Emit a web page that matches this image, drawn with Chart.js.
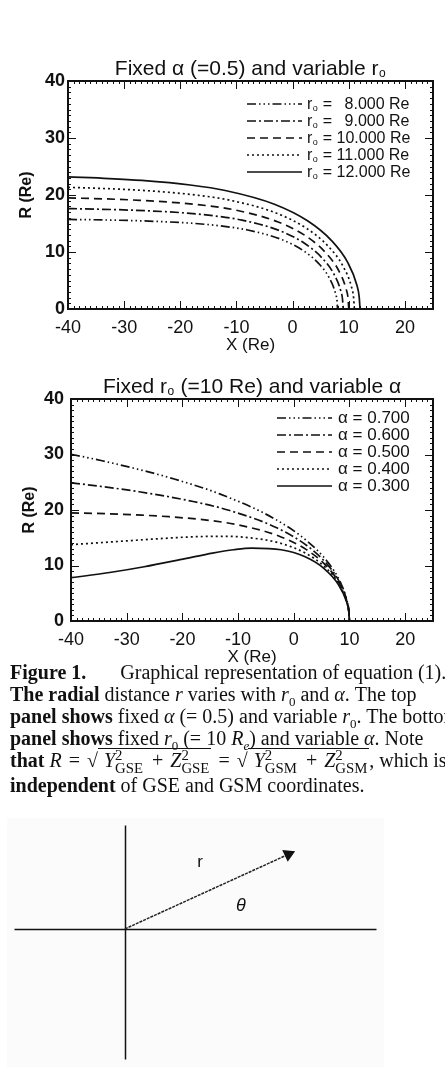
<!DOCTYPE html>
<html lang="en">
<head>
    <meta charset="UTF-8">
    <title>Figure 1</title>
    <script src="https://cdn.jsdelivr.net/npm/chart.js"></script>
    <style>
        html, body {
            margin: 0;
            padding: 0;
            background: #fff;
        }

        #page {
            position: relative;
            width: 445px;
            height: 1067px;
            overflow: hidden;
            background: #fff;
        }

        canvas {
            position: absolute;
        }

        #caption {
            position: absolute;
            left: 10px;
            top: 661px;
            width: 480px;
            font-family: "Liberation Serif", "DejaVu Serif", serif;
            font-size: 20px;
            line-height: 22px;
            color: #111;
            white-space: nowrap;
        }

        #caption sub {
            font-size: 65%;
            line-height: 0;
        }

        .gap {
            display: inline-block;
            width: 34px;
        }

        .ov {
            border-top: 1px solid #111;
            padding-left: 6px;
        }

        .op {
            margin: 0 2px;
        }

        .ss {
            display: inline-block;
            font-size: 74%;
            line-height: 0.85;
            vertical-align: -0.4em;
            margin-right: 2px;
        }

        .ss > span {
            display: block;
        }
    </style>
</head>
<body>
<div id="page">
    <canvas id="topChart" width="445" height="300" style="left:0;top:56px"></canvas>
    <canvas id="bottomChart" width="445" height="294" style="left:0;top:374px"></canvas>

    <div id="caption">
        <div><b>Figure 1.</b><span class="gap"></span>Graphical representation of equation (1).</div>
        <div><b>The radial</b> distance <i>r</i> varies with <i>r</i><sub>0</sub> and <i>α</i>. The top</div>
        <div><b>panel shows</b> fixed <i>α</i> (= 0.5) and variable <i>r</i><sub>0</sub>. The bottom</div>
        <div><b>panel shows</b> fixed <i>r</i><sub>0</sub> (= 10 <i>R<sub>e</sub></i>) and variable <i>α</i>. Note</div>
        <div><b>that</b> <i>R</i> <span class="op">=</span> √<span class="ov"><i>Y</i><span class="ss"><span>2</span><span>GSE</span></span> <span class="op">+</span> <i>Z</i><span class="ss"><span>2</span><span>GSE</span></span></span> <span class="op">=</span> √<span class="ov"><i>Y</i><span class="ss"><span>2</span><span>GSM</span></span> <span class="op">+</span> <i>Z</i><span class="ss"><span>2</span><span>GSM</span></span></span>, which is</div>
        <div><b>independent</b> of GSE and GSM coordinates.</div>
    </div>

    <canvas id="sketch" width="377" height="249" style="left:7px;top:818px;background:#fbfbfb"></canvas>
</div>
<script>
    // top panel: fixed alpha = 0.5, r0 = 8..12 Re  (X in Re, R in Re)
    const r0Labels = ['r₀ = \u20028.000 Re', 'r₀ = \u20029.000 Re', 'r₀ = 10.000 Re', 'r₀ = 11.000 Re', 'r₀ = 12.000 Re'];
    const r0_8_X = [-40, -33.50, -26.77, -17.92, -12.17, -8.00, -2.16, 1.81, 4.62, 6.52, 7.63, 7.91, 8.00];
    const r0_8_R = [15.72, 15.62, 15.46, 15.04, 14.50, 13.86, 12.26, 10.29, 8.00, 5.47, 2.78, 1.39, 0];
    const r0_9_X = [-40, -37.69, -30.11, -20.16, -13.69, -9.00, -2.43, 2.04, 5.20, 7.34, 8.59, 8.90, 9.00];
    const r0_9_R = [17.62, 17.57, 17.39, 16.92, 16.31, 15.59, 13.79, 11.57, 9.00, 6.16, 3.13, 1.57, 0];
    const r0_10_X = [-40, -33.46, -27.24, -22.40, -15.21, -10.00, -2.70, 2.27, 5.77, 8.15, 9.54, 9.89, 10.00];
    const r0_10_R = [19.49, 19.32, 19.07, 18.79, 18.13, 17.32, 15.32, 12.86, 10.00, 6.84, 3.47, 1.74, 0];
    const r0_11_X = [-40, -36.81, -29.96, -24.64, -16.73, -11.00, -2.97, 2.49, 6.35, 8.97, 10.50, 10.87, 11.00];
    const r0_11_R = [21.34, 21.25, 20.98, 20.67, 19.94, 19.05, 16.85, 14.14, 11.00, 7.52, 3.82, 1.92, 0];
    const r0_12_X = [-40, -32.69, -26.88, -18.25, -12.00, -3.24, 2.72, 6.93, 9.78, 11.45, 11.86, 12.00];
    const r0_12_R = [23.18, 22.89, 22.55, 21.75, 20.79, 18.38, 15.43, 12.00, 8.21, 4.17, 2.09, 0];

    // bottom panel: fixed r0 = 10 Re, alpha = 0.7..0.3
    const alphaLabels = ['α = 0.700', 'α = 0.600', 'α = 0.500', 'α = 0.400', 'α = 0.300'];
    const a07_X = [-40, -34.40, -27.13, -21.46, -13.20, -3.22, 2.52, 6.12, 8.36, 9.60, 9.90, 10.00];
    const a07_R = [30.05, 28.87, 27.13, 25.58, 22.86, 18.28, 14.30, 10.59, 7.01, 3.49, 1.75, 0];
    const a06_X = [-40, -34.64, -27.76, -18.07, -11.49, -2.95, 2.39, 5.94, 8.25, 9.57, 9.89, 10.00];
    const a06_R = [24.90, 24.25, 23.29, 21.53, 19.90, 16.74, 13.56, 10.29, 6.93, 3.48, 1.74, 0];
    const a05_X = [-40, -33.46, -27.24, -22.40, -15.21, -10.00, -2.70, 2.27, 5.77, 8.15, 9.54, 9.89, 10.00];
    const a05_R = [19.49, 19.32, 19.07, 18.79, 18.13, 17.32, 15.32, 12.86, 10.00, 6.84, 3.47, 1.74, 0];
    const a04_X = [-40, -38.13, -30.83, -25.54, -18.07, -12.80, -8.71, -2.47, 2.15, 5.61, 8.05, 9.51, 9.88, 10.00];
    const a04_R = [13.75, 13.88, 14.38, 14.74, 15.17, 15.26, 15.08, 14.03, 12.19, 9.72, 6.76, 3.46, 1.74, 0];
    const a03_X = [-40, -37.92, -32.77, -26.87, -19.49, -14.58, -10.78, -7.58, -2.26, 2.04, 5.45, 7.95, 9.48, 9.87, 10.00];
    const a03_R = [7.80, 8.06, 8.78, 9.78, 11.25, 12.24, 12.84, 13.13, 12.84, 11.56, 9.44, 6.67, 3.45, 1.74, 0];

    // axis ticks
    const xTicks = [-40, -30, -20, -10, 0, 10, 20];
    const yTicks = [0, 10, 20, 30, 40];

    // sketch: radius vector r at angle theta
    const vecX = [0, 1.48];
    const vecY = [0, 0.69];

    // line styles, same order in both panels
    const dashes = [[9, 3, 1.5, 3, 1.5, 3, 1.5, 3], [9, 3, 2, 3], [8, 5], [2, 3], []];

    const sansFont = '"Liberation Sans", Arial, Helvetica, sans-serif';

    function pts(xs, ys) {
        return xs.map((x, i) => ({x: x, y: ys[i]}));
    }

    function richWidth(ctx, text, size) {
        const parts = text.split('₀');
        let w = 0;
        parts.forEach((p, i) => {
            ctx.font = size + 'px ' + sansFont;
            w += ctx.measureText(p).width;
            if (i < parts.length - 1) {
                ctx.font = Math.round(size * 0.55) + 'px ' + sansFont;
                w += ctx.measureText('o').width + 1;
            }
        });
        return w;
    }

    // text with the ₀ glyph drawn as a small lowered o, as in the print
    function drawRich(ctx, text, x, y, size) {
        const parts = text.split('₀');
        ctx.textBaseline = 'middle';
        ctx.textAlign = 'left';
        parts.forEach((p, i) => {
            ctx.font = size + 'px ' + sansFont;
            ctx.fillText(p, x, y);
            x += ctx.measureText(p).width;
            if (i < parts.length - 1) {
                ctx.font = Math.round(size * 0.55) + 'px ' + sansFont;
                ctx.fillText('o', x + 0.5, y + size * 0.22);
                x += ctx.measureText('o').width + 1;
            }
        });
    }

    // box around the plot with inward major/minor ticks on all four sides, plus the title
    const frameTicks = {
        id: 'frameTicks',
        afterDatasetsDraw(chart, args, opts) {
            const {ctx, chartArea: a, scales: {x, y}} = chart;
            ctx.save();
            ctx.strokeStyle = '#111';
            ctx.fillStyle = '#111';
            ctx.lineWidth = 2;
            ctx.strokeRect(a.left, a.top, a.right - a.left, a.bottom - a.top);
            ctx.lineWidth = 1;
            ctx.beginPath();
            for (let v = Math.ceil(x.min); v <= x.max; v++) {
                const px = Math.round(x.getPixelForValue(v)) + 0.5;
                const len = v % 10 === 0 ? 8 : 3;
                ctx.moveTo(px, a.bottom);
                ctx.lineTo(px, a.bottom - len);
                ctx.moveTo(px, a.top);
                ctx.lineTo(px, a.top + len);
            }
            for (let v = Math.ceil(y.min); v <= y.max; v++) {
                const py = Math.round(y.getPixelForValue(v)) + 0.5;
                const len = v % 10 === 0 ? 8 : 3;
                ctx.moveTo(a.left, py);
                ctx.lineTo(a.left + len, py);
                ctx.moveTo(a.right, py);
                ctx.lineTo(a.right - len, py);
            }
            ctx.stroke();
            if (opts && opts.title) {
                const w = richWidth(ctx, opts.title, opts.size);
                drawRich(ctx, opts.title, (a.left + a.right) / 2 - w / 2, a.top - opts.offset, opts.size);
            }
            ctx.restore();
        }
    };

    // legend drawn inside the plot, top right
    const innerLegend = {
        id: 'innerLegend',
        afterDatasetsDraw(chart, args, opts) {
            if (!opts || opts.left === undefined) return;
            const {ctx, chartArea: a} = chart;
            ctx.save();
            ctx.fillStyle = '#111';
            ctx.strokeStyle = '#111';
            chart.data.datasets.forEach((ds, i) => {
                const yy = a.top + opts.top + i * opts.step;
                const x0 = a.left + opts.left;
                ctx.lineWidth = ds.borderWidth;
                ctx.setLineDash(ds.borderDash);
                ctx.beginPath();
                ctx.moveTo(x0, yy);
                ctx.lineTo(x0 + opts.len, yy);
                ctx.stroke();
                ctx.setLineDash([]);
                drawRich(ctx, ds.label, x0 + opts.len + opts.gap, yy + 0.5, opts.size);
            });
            ctx.restore();
        }
    };

    function makeDatasets(labels, series) {
        return series.map((s, i) => ({
            label: labels[i],
            data: pts(s[0], s[1]),
            showLine: true,
            borderColor: '#111',
            borderWidth: 1.7,
            borderDash: dashes[i],
            pointRadius: 0,
            cubicInterpolationMode: 'monotone',
            fill: false
        }));
    }

    function panelOptions(title, yWidth, yTitlePad, yTickPad, legend) {
        return {
            responsive: false,
            animation: false,
            devicePixelRatio: 1,
            layout: {padding: {left: 0, right: 12, top: 25, bottom: 0}},
            plugins: {
                legend: {display: false},
                tooltip: {enabled: false},
                title: {display: false},
                frameTicks: {title: title, size: 21, offset: 11.5},
                innerLegend: legend
            },
            scales: {
                x: {
                    type: 'linear',
                    min: -40,
                    max: 25,
                    afterFit: s => { s.height = 47; },
                    afterBuildTicks: s => { s.ticks = xTicks.map(v => ({value: v})); },
                    grid: {display: false, drawTicks: false},
                    border: {display: false},
                    ticks: {
                        color: '#111',
                        padding: 8,
                        maxRotation: 0,
                        font: {family: sansFont, size: 18}
                    },
                    title: {
                        display: true,
                        text: 'X (Re)',
                        color: '#111',
                        font: {family: sansFont, size: 17},
                        padding: {top: 0, bottom: 0}
                    }
                },
                y: {
                    type: 'linear',
                    min: 0,
                    max: 40,
                    afterFit: s => { s.width = yWidth; },
                    afterBuildTicks: s => { s.ticks = yTicks.map(v => ({value: v})); },
                    grid: {display: false, drawTicks: false},
                    border: {display: false},
                    ticks: {
                        color: '#111',
                        padding: yTickPad,
                        font: {family: sansFont, size: 18, weight: 'bold'}
                    },
                    title: {
                        display: true,
                        text: 'R (Re)',
                        color: '#111',
                        font: {family: sansFont, size: 16, weight: 'bold'},
                        padding: {top: yTitlePad, bottom: 0}
                    }
                }
            }
        };
    }

    new Chart(document.getElementById('topChart').getContext('2d'), {
        type: 'scatter',
        data: {
            datasets: makeDatasets(r0Labels, [
                [r0_8_X, r0_8_R], [r0_9_X, r0_9_R], [r0_10_X, r0_10_R], [r0_11_X, r0_11_R], [r0_12_X, r0_12_R]
            ])
        },
        options: panelOptions('Fixed α (=0.5) and variable r₀', 68, 17, 3,
            {left: 179, top: 23, step: 17, len: 55, gap: 5, size: 16}),
        plugins: [frameTicks, innerLegend]
    });

    new Chart(document.getElementById('bottomChart').getContext('2d'), {
        type: 'scatter',
        data: {
            datasets: makeDatasets(alphaLabels, [
                [a07_X, a07_R], [a06_X, a06_R], [a05_X, a05_R], [a04_X, a04_R], [a03_X, a03_R]
            ])
        },
        options: panelOptions('Fixed r₀ (=10 Re) and variable α', 71, 20, 7,
            {left: 206, top: 19, step: 17, len: 55, gap: 6, size: 17}),
        plugins: [frameTicks, innerLegend]
    });

    // little sketch of r and theta below the caption
    const sketchAxes = {
        id: 'sketchAxes',
        beforeDatasetsDraw(chart) {
            const {ctx, chartArea: a, scales: {x, y}} = chart;
            const x0 = Math.round(x.getPixelForValue(0)) + 0.5;
            const y0 = Math.round(y.getPixelForValue(0)) + 0.5;
            ctx.save();
            ctx.strokeStyle = '#111';
            ctx.lineWidth = 1.5;
            ctx.beginPath();
            ctx.moveTo(a.left, y0);
            ctx.lineTo(a.right, y0);
            ctx.moveTo(x0, a.top);
            ctx.lineTo(x0, a.bottom);
            ctx.stroke();
            ctx.fillStyle = '#111';
            ctx.textAlign = 'center';
            ctx.textBaseline = 'middle';
            ctx.font = '17px ' + sansFont;
            ctx.fillText('r', x.getPixelForValue(0.68), y.getPixelForValue(0.62));
            ctx.font = 'italic 18px ' + sansFont;
            ctx.fillText('θ', x.getPixelForValue(1.05), y.getPixelForValue(0.21));
            ctx.restore();
        }
    };

    new Chart(document.getElementById('sketch').getContext('2d'), {
        type: 'scatter',
        data: {
            datasets: [{
                data: pts(vecX, vecY),
                showLine: true,
                borderColor: '#222',
                borderWidth: 1.5,
                borderDash: [3, 1],
                pointRadius: [0, 6],
                pointStyle: 'triangle',
                rotation: [0, 65],
                pointBackgroundColor: '#111',
                pointBorderColor: '#111'
            }]
        },
        options: {
            responsive: false,
            animation: false,
            devicePixelRatio: 1,
            layout: {padding: 0},
            plugins: {legend: {display: false}, tooltip: {enabled: false}},
            scales: {
                x: {type: 'linear', min: -1, max: 2.278, display: false},
                y: {type: 'linear', min: -1.209, max: 0.957, display: false}
            }
        },
        plugins: [sketchAxes]
    });
</script>
</body>
</html>
